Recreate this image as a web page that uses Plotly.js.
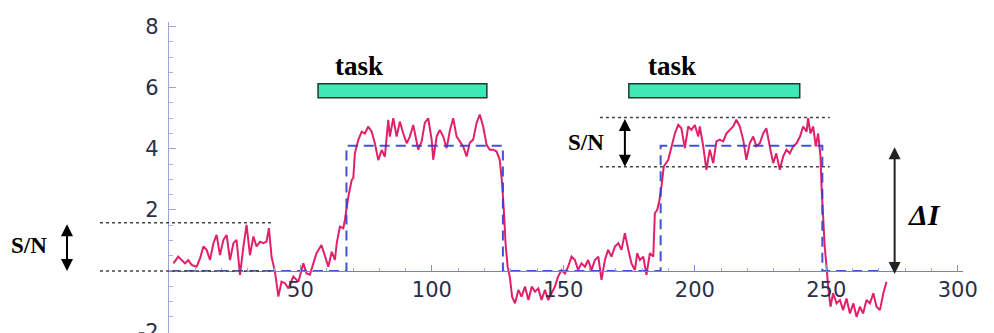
<!DOCTYPE html>
<html><head><meta charset="utf-8">
<script src="https://cdn.plot.ly/plotly-3.0.1.min.js"></script>
<style>html,body{margin:0;padding:0;background:#fff}#chart{width:994px;height:333px}</style>
</head><body><div id="chart"></div>
<script>
// Measured signal (time vs intensity)
const signalX = [1.7,3.5,4.8,6.1,7.3,8.6,10.5,11.8,13.1,14.3,15.6,16.9,18.1,19.4,20.7,21.9,23.2,24.5,25.7,27.0,28.3,29.5,30.8,32.1,33.3,34.6,35.9,37.1,38.0,39.0,40.3,41.6,42.8,44.1,45.4,
47.3,49.2,51.1,52.3,53.6,54.9,56.1,58.0,59.3,60.6,61.9,63.1,63.8,65.0,66.3,66.9,68.2,68.8,69.5,70.1,70.7,72.0,73.3,74.5,75.8,77.1,78.3,79.6,80.9,82.1,83.4,84.0,85.3,86.6,87.8,89.1,90.4,91.6,92.9,
94.8,96.1,97.3,98.6,99.9,100.5,101.8,103.0,104.3,105.6,106.9,108.1,109.4,110.6,111.9,113.2,114.4,115.7,117.0,118.2,119.5,120.8,122.0,123.3,124.6,125.8,126.7,127.5,128.0,128.8,129.6,130.5,131.6,132.9,134.1,135.4,136.7,138.0,139.2,140.5,
141.7,143.0,144.2,146.8,148.0,149.3,150.6,151.8,153.1,154.4,155.6,156.9,158.2,159.4,160.7,162.0,163.3,164.5,165.8,167.0,168.3,169.6,170.9,172.1,173.4,174.7,175.9,177.2,178.1,179.1,180.4,181.6,182.9,184.2,184.8,185.7,186.5,187.3,188.2,
189.9,191.1,192.4,193.7,194.9,196.2,197.5,198.7,200.0,201.3,201.9,203.2,204.4,205.7,207.0,208.2,209.5,210.8,212.0,213.3,214.6,215.8,217.1,218.4,219.6,220.9,222.2,223.4,224.7,226.0,227.2,228.5,229.8,231.0,232.3,233.6,234.9,236.1,237.4,
238.7,240.0,241.2,242.5,243.1,244.0,245.0,246.0,246.9,247.8,248.2,248.8,249.4,250.1,250.7,251.6,252.6,253.9,255.2,256.4,257.7,259.0,260.3,261.5,262.8,264.0,265.3,266.6,267.9,269.1,270.4,271.7,272.9];
const signalY = [0.25,0.47,0.36,0.25,0.36,0.2,0.14,0.41,0.8,0.69,0.36,0.91,1.18,0.52,1.02,1.18,0.36,0.91,1.02,-0.13,0.8,1.51,0.52,1.13,0.8,0.96,0.91,0.96,1.4,0.47,-0.02,-0.84,-0.35,-0.4,-0.57,
-0.18,-0.35,0.25,-0.08,-0.12,0.25,0.58,0.85,0.47,0.14,0.63,0.36,0.91,1.45,1.4,1.67,2.43,2.65,2.98,3.04,3.85,4.29,4.56,4.5,4.73,4.56,4.18,3.63,3.96,3.74,4.95,4.4,5.0,4.4,4.89,4.5,4.18,4.4,4.78,
3.97,4.24,4.85,5.0,4.3,3.64,4.4,4.62,4.4,4.02,4.62,5.0,4.4,4.24,4.08,3.75,4.2,4.3,4.85,5.12,4.73,4.13,3.97,3.97,3.91,3.64,2.87,1.78,0.91,0.14,-0.18,-0.84,-1.06,-0.62,-0.84,-0.51,-0.95,-0.51,-0.68,-0.57,
-0.95,-0.62,-0.95,-0.51,-0.18,0.03,-0.08,0.14,0.47,0.36,0.03,0.25,0.14,0.36,0.03,0.36,0.47,-0.29,0.36,0.69,0.47,0.8,0.91,0.69,1.24,0.69,0.25,0.03,0.58,0.36,0.47,-0.13,0.58,0.47,1.89,2.0,2.3,2.76,3.42,
3.64,4.08,4.5,4.78,4.67,4.02,4.73,4.62,4.78,4.4,4.73,4.08,3.31,3.97,3.53,4.24,4.3,4.24,4.5,4.62,4.73,4.95,4.73,4.3,3.64,4.18,4.4,4.08,4.18,4.5,4.67,4.08,3.53,3.85,3.31,3.75,3.97,3.85,4.08,
4.18,4.4,4.73,4.56,5.0,4.5,4.73,4.08,4.5,3.75,2.76,1.78,0.8,0.14,-0.51,-1.17,-0.73,-1.06,-0.95,-1.28,-0.9,-1.39,-1.06,-1.5,-1.17,-1.39,-0.95,-1.06,-0.73,-1.17,-1.28,-0.73,-0.35];

// Ideal boxcar (task on/off)
const boxcarX = [0, 67.5, 67.5, 127, 127, 187, 187, 248.5, 248.5, 272];
const boxcarY = [0, 0, 4.1, 4.1, 0, 0, 4.1, 4.1, 0, 0];

// Task periods
const taskStart = [56.7, 174.9];
const taskEnd = [120.9, 239.9];
const taskLabel = ['task', 'task'];
const taskLabelX = [62.4, 181.4];

// Noise bands
const baselineNoise = [0, 1.58];
const activeNoise = [3.41, 5.02];
const activeNoiseX = [163.9, 251.3];

const xTickVals = [50, 100, 150, 200, 250, 300];
const yTickVals = [-2, 2, 4, 6, 8];
const yTickText = ['-2', '2', '4', '6', '8'];

const X_RANGE = [0, 302];
const Y_RANGE = [-2.03, 8.15];
const L = 169, R = 31, T = 22, B = 0;
const W = 994 - L - R;
const px2paper = p => (p - L) / W;

const traces = [
  {x: signalX, y: signalY, mode: 'lines', type: 'scatter',
   line: {color: '#e2206a', width: 2}, hoverinfo: 'skip'},
  {x: boxcarX, y: boxcarY, mode: 'lines', type: 'scatter',
   line: {color: '#2f3fd0', width: 2, dash: '10px,6px'}, opacity: 0.9, hoverinfo: 'skip'}
];

const shapes = [];
for (let i = 0; i < taskStart.length; i++) {
  shapes.push({type: 'rect', xref: 'x', yref: 'y', x0: taskStart[i], x1: taskEnd[i], y0: 5.67, y1: 6.13,
    fillcolor: '#3fe8b6', line: {color: '#1d3a2c', width: 1.5}});
}
baselineNoise.forEach(v => shapes.push({type: 'line', xref: 'paper', yref: 'y',
  x0: px2paper(100), x1: px2paper(272), y0: v, y1: v, line: {color: '#444', width: 1.5, dash: 'dot'}}));
activeNoise.forEach(v => shapes.push({type: 'line', xref: 'x', yref: 'y',
  x0: activeNoiseX[0], x1: activeNoiseX[1], y0: v, y1: v, line: {color: '#444', width: 1.5, dash: 'dot'}}));

const serifBold = {family: 'Liberation Serif, Times New Roman, serif', color: '#000'};
const annotations = [];
for (let i = 0; i < taskLabel.length; i++) {
  annotations.push({xref: 'x', yref: 'y', x: taskLabelX[i], y: 6.72, text: '<b>' + taskLabel[i] + '</b>',
    showarrow: false, xanchor: 'left', yanchor: 'middle', font: Object.assign({size: 27}, serifBold)});
}
// left S/N
annotations.push({xref: 'paper', yref: 'y', x: px2paper(29), y: 0.85, text: '<b>S/N</b>', showarrow: false,
  xanchor: 'center', yanchor: 'middle', font: Object.assign({size: 23}, serifBold)});
annotations.push({xref: 'paper', yref: 'y', x: px2paper(67), y: baselineNoise[0], axref: 'pixel', ayref: 'y',
  ax: 0, ay: baselineNoise[1], text: '', showarrow: true, arrowside: 'end+start', arrowhead: 2,
  arrowsize: 1.2, arrowwidth: 2, arrowcolor: '#000', standoff: 0, startstandoff: 0});
// right S/N
annotations.push({xref: 'x', yref: 'y', x: 158.7, y: 4.2, text: '<b>S/N</b>', showarrow: false,
  xanchor: 'center', yanchor: 'middle', font: Object.assign({size: 23}, serifBold)});
annotations.push({xref: 'x', yref: 'y', x: 173.4, y: activeNoise[0], axref: 'x', ayref: 'y',
  ax: 173.4, ay: activeNoise[1], text: '', showarrow: true, arrowside: 'end+start', arrowhead: 2,
  arrowsize: 1.2, arrowwidth: 2, arrowcolor: '#000', standoff: 0, startstandoff: 0});
// Delta I
annotations.push({xref: 'x', yref: 'y', x: 276, y: -0.1, axref: 'x', ayref: 'y',
  ax: 276, ay: 4.1, text: '', showarrow: true, arrowside: 'end+start', arrowhead: 2,
  arrowsize: 1.2, arrowwidth: 2, arrowcolor: '#222', standoff: 0, startstandoff: 0});
annotations.push({xref: 'x', yref: 'y', x: 287.3, y: 1.84, text: '<b><i>ΔI</i></b>', showarrow: false,
  xanchor: 'center', yanchor: 'middle', font: Object.assign({size: 30}, serifBold)});

const tickFont = {family: 'DejaVu Sans, sans-serif', size: 21, color: '#2c2f48'};
const layout = {
  width: 994, height: 333,
  margin: {l: L, r: R, t: T, b: B, pad: 0},
  paper_bgcolor: '#fff', plot_bgcolor: '#fff',
  showlegend: false,
  xaxis: {range: X_RANGE, anchor: 'free', position: (0 - Y_RANGE[0]) / (Y_RANGE[1] - Y_RANGE[0]),
    showline: true, linecolor: '#7080d8', linewidth: 1.2, showgrid: false, zeroline: false,
    tickmode: 'array', tickvals: xTickVals, ticks: 'inside', ticklen: 6, tickcolor: '#8090d8', tickwidth: 1,
    minor: {tickmode: 'linear', tick0: 0, dtick: 10, ticks: 'inside', ticklen: 3, tickcolor: '#98a4dc'},
    tickfont: tickFont, ticklabelstandoff: 0, automargin: false, fixedrange: true},
  yaxis: {range: Y_RANGE, showline: true, linecolor: '#9ba6dc', linewidth: 1.2, showgrid: false, zeroline: false,
    tickmode: 'array', tickvals: yTickVals, ticktext: yTickText, ticks: 'inside', ticklen: 7, tickcolor: '#9ba6dc',
    minor: {tickmode: 'linear', tick0: 0, dtick: 0.5, ticks: 'inside', ticklen: 3.5, tickcolor: '#aab3e0'},
    tickfont: tickFont, ticklabelstandoff: 5, ticklabeloverflow: 'allow', automargin: false, fixedrange: true},
  shapes: shapes,
  annotations: annotations
};

Plotly.newPlot('chart', traces, layout, {displayModeBar: false, staticPlot: true});
</script>
</body></html>
